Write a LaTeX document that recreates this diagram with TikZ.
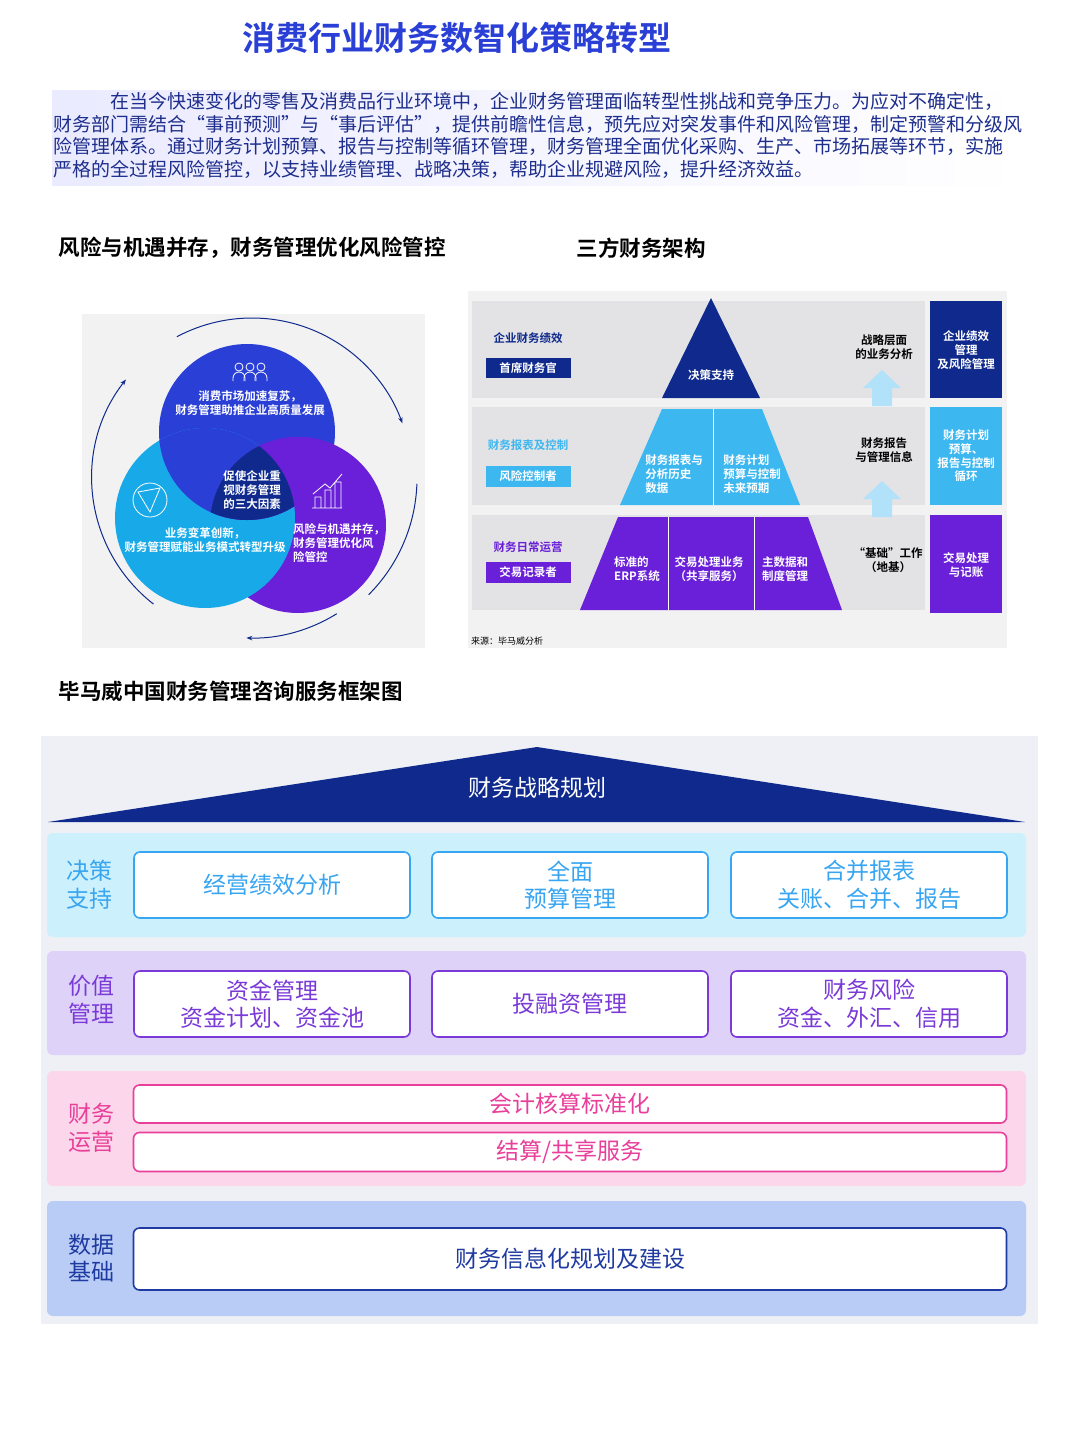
\documentclass[tikz,border=0pt]{standalone}
\usepackage{fontspec}
\setmainfont{Noto Sans CJK SC}
\newfontfamily\cjkb{Noto Sans CJK SC Bold}
\usetikzlibrary{arrows.meta}
\definecolor{navy}{HTML}{0F2A8C}
\definecolor{tblue}{HTML}{2A3FD6}
\definecolor{lcyan}{HTML}{18AAE8}
\definecolor{vio}{HTML}{6A1FD8}
\definecolor{lblue}{HTML}{3DB7F0}
\definecolor{band}{HTML}{E3E3E6}
\definecolor{txtb}{HTML}{1E2E8C}
\newcommand{\fs}[1]{\fontsize{#1}{\fpeval{1.2*#1}}\selectfont}
\tikzset{
 hd/.style={anchor=west,font=\cjkb\fs{21.5},text=black},
 wt/.style={text=white,font=\cjkb\fs{11.5},align=center,inner sep=0},
 pl/.style={font=\cjkb\fs{11.5},align=center,inner sep=0},
 rbox/.style={draw=#1,line width=1.6pt,rounded corners=6pt,fill=white,text=#1,font=\fs{23},align=center,inner sep=0},
 rlab/.style={text=#1,font=\fs{23},align=center,inner sep=0},
 cyc/.style={draw=navy,line width=1pt,-{Stealth[length=6pt]}},
 uparr/.style={fill=lblue!40},
}
\begin{document}
\begin{tikzpicture}[x=1pt,y=-1pt]
\useasboundingbox (0,0) rectangle (1080,1440);
\fill[white] (0,0) rectangle (1080,1440);
\node[font=\cjkb\fs{33},text=tblue] (title) at (457,38) {消费行业财务数智化策略转型};
\shade[left color=blue!8,right color=white] (52,90) rectangle (1025,185);
\node[anchor=north west,align=left,font=\fs{19},text=txtb,inner sep=0] (para) at (53,92) {\hspace{3em}在当今快速变化的零售及消费品行业环境中，企业财务管理面临转型性挑战和竞争压力。为应对不确定性，\\财务部门需结合“事前预测”与“事后评估”，提供前瞻性信息，预先应对突发事件和风险管理，制定预警和分级风\\险管理体系。通过财务计划预算、报告与控制等循环管理，财务管理全面优化采购、生产、市场拓展等环节，实施\\严格的全过程风险管控，以支持业绩管理、战略决策，帮助企业规避风险，提升经济效益。};
\node[hd] (h1) at (55,248) {风险与机遇并存，财务管理优化风险管控};
\node[hd] (h2) at (573,248) {三方财务架构};
% venn
\fill[black!5] (82,314) rectangle (425,648);
\coordinate (ct) at (247,432); \coordinate (cl) at (205,518); \coordinate (cr) at (298,525);
\fill[tblue] (ct) circle (88);
\fill[vio] (cr) circle (88);
\fill[lcyan] (cl) circle (90);
\begin{scope}\clip (cl) circle (90); \fill[tblue] (ct) circle (88);\end{scope}
\begin{scope}\clip (ct) circle (88); \fill[vio] (cr) circle (88);\end{scope}
\begin{scope}\clip (ct) circle (88); \clip (cl) circle (90); \fill[navy] (cr) circle (88);\end{scope}
\node[wt] (vt) at (250,403) {消费市场加速复苏，\\财务管理助推企业高质量发展};
\node[wt] (vc) at (252,490) {促使企业重\\视财务管理\\的三大因素};
\node[wt] (vl) at (205,540) {业务变革创新，\\财务管理赋能业务模式转型升级};
\node[wt,align=left] (vr) at (339,543) {风险与机遇并存，\\财务管理优化风\\险管控};
% icons
\foreach \dx in {-11,0,11}{\draw[white,line width=0.8pt] (250+\dx,367) circle (4); \draw[white,line width=0.8pt] (244+\dx,381) -- (244+\dx,378) arc[start angle=180,end angle=360,radius=6] -- (256+\dx,381);}
\draw[white,line width=0.8pt] (150,500) circle (17); \draw[white,line width=0.8pt] (138,492)--(160,488)--(150,512)--cycle;
\draw[white,line width=0.8pt] (312,508)--(342,508) (315,508) rectangle (321,497) (325,508) rectangle (331,490) (335,508) rectangle (341,482) (313,494)--(325,484)--(330,488)--(342,474);
% cycle arrows
\coordinate (vc0) at (252,478);
\draw[cyc] (vc0) ++(-118:160) arc[start angle=-118,end angle=-20,radius=160];
\draw[cyc,-] (vc0) ++(2:165) arc[start angle=2,end angle=45,radius=165];
\draw[cyc] (vc0) ++(58:160) arc[start angle=58,end angle=92,radius=160];
\draw[cyc] (vc0) ++(128:160) arc[start angle=128,end angle=218,radius=160];
% pyramid panel
\fill[black!5] (468,291) rectangle (1007,648);
\fill[band] (472,301) rectangle (925,398);
\fill[band] (472,407) rectangle (925,505);
\fill[band] (472,515) rectangle (925,610);
\fill[navy] (930,301) rectangle (1002,398);
\fill[lblue] (930,407) rectangle (1002,505);
\fill[vio] (930,515) rectangle (1002,613);
\fill[navy] (711,298) -- (760,398) -- (662,398) -- cycle;
\fill[lblue] (662,409) -- (762,409) -- (800,505) -- (620,505) -- cycle;
\fill[vio] (618,517) -- (808,517) -- (842,610) -- (580,610) -- cycle;
\draw[white,line width=1pt] (713,409)--(713,505) (668,517)--(668,610) (754,517)--(754,610);
\node[wt] (p1) at (711,375) {决策支持};
\node[wt,align=left] (p2) at (674,474) {财务报表与\\分析历史\\数据};
\node[wt,align=left] (p3) at (752,474) {财务计划\\预算与控制\\未来预期};
\node[wt,align=left] (p4) at (637,569) {标准的\\ERP系统};
\node[wt] (p5) at (709,569) {交易处理业务\\（共享服务）};
\node[wt,align=left] (p6) at (785,569) {主数据和\\制度管理};
\node[pl,text=navy] (l1) at (528,338) {企业财务绩效};
\node[fill=navy,minimum width=85,minimum height=20,wt] (b1) at (528,368) {首席财务官};
\node[pl,text=lblue] (l2) at (528,445) {财务报表及控制};
\node[fill=lblue,minimum width=85,minimum height=21,wt] (b2) at (528,476) {风险控制者};
\node[pl,text=vio] (l3) at (528,547) {财务日常运营};
\node[fill=vio,minimum width=85,minimum height=21,wt] (b3) at (528,572) {交易记录者};
\node[pl] (m1) at (884,347) {战略层面\\的业务分析};
\node[pl] (m2) at (884,450) {财务报告\\与管理信息};
\node[pl] (m3) at (888,560) {“基础”工作\\（地基）};
\fill[uparr] (882,370) -- (901,388) -- (892,388) -- (892,406) -- (872,406) -- (872,388) -- (863,388) -- cycle;
\fill[uparr] (882,481) -- (901,499) -- (892,499) -- (892,517) -- (872,517) -- (872,499) -- (863,499) -- cycle;
\node[wt] (r1) at (966,350) {企业绩效\\管理\\及风险管理};
\node[wt] (r2) at (966,456) {财务计划\\预算、\\报告与控制\\循环};
\node[wt] (r3) at (966,565) {交易处理\\与记账};
\node[anchor=west,font=\fs{9},inner sep=0] (src) at (471,641) {来源：毕马威分析};
% framework
\node[hd] (h3) at (55,691) {毕马威中国财务管理咨询服务框架图};
\fill[fill={rgb,255:red,238;green,240;blue,245}] (41,736) rectangle (1038,1324);
\fill[navy] (537,747) -- (1025,822) -- (48,822) -- cycle;
\node[text=white,font=\fs{23}] (strat) at (537,788) {财务战略规划};
\fill[rounded corners=6pt,fill={rgb,255:red,204;green,240;blue,252}] (47,833) rectangle (1026,937);
\fill[rounded corners=6pt,fill={rgb,255:red,222;green,210;blue,248}] (47,951) rectangle (1026,1055);
\fill[rounded corners=6pt,fill={rgb,255:red,252;green,214;blue,234}] (47,1071) rectangle (1026,1186);
\fill[rounded corners=6pt,fill={rgb,255:red,184;green,204;blue,246}] (47,1201) rectangle (1026,1316);
\colorlet{c1}{lblue!90!blue}
\definecolor{c2}{HTML}{7A3AD8}
\definecolor{c3}{HTML}{E8409A}
\definecolor{c4}{HTML}{1F3AA0}
\node[rlab=c1] (k1) at (89,885) {决策\\支持};
\node[rlab=c2] (k2) at (91,1000) {价值\\管理};
\node[rlab=c3] (k3) at (91,1128) {财务\\运营};
\node[rlab=c4] (k4) at (91,1258) {数据\\基础};
\node[rbox=c1,minimum width=276,minimum height=66] (x11) at (272,885) {经营绩效分析};
\node[rbox=c1,minimum width=276,minimum height=66] (x12) at (570,885) {全面\\预算管理};
\node[rbox=c1,minimum width=276,minimum height=66] (x13) at (869,885) {合并报表\\关账、合并、报告};
\node[rbox=c2,minimum width=276,minimum height=66] (x21) at (272,1004) {资金管理\\资金计划、资金池};
\node[rbox=c2,minimum width=276,minimum height=66] (x22) at (570,1004) {投融资管理};
\node[rbox=c2,minimum width=276,minimum height=66] (x23) at (869,1004) {财务风险\\资金、外汇、信用};
\node[rbox=c3,minimum width=873,minimum height=38] (x31) at (570,1104) {会计核算标准化};
\node[rbox=c3,minimum width=873,minimum height=39] (x32) at (570,1152) {结算/共享服务};
\node[rbox=c4,minimum width=873,minimum height=62] (x41) at (570,1259) {财务信息化规划及建设};
\end{tikzpicture}
\end{document}
